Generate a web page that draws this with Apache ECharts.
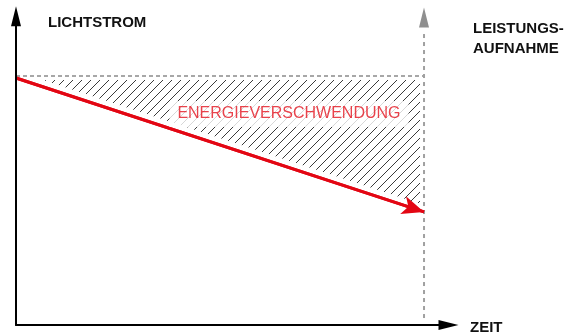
<!DOCTYPE html>
<html><head><meta charset="utf-8">
<script src="https://cdn.jsdelivr.net/npm/echarts@6/dist/echarts.min.js"></script>
<style>html,body{margin:0;padding:0;background:#fff}#c{width:564px;height:333px}</style>
</head><body><div id="c"></div><script>
// ---- data ----
const timeSteps   = [0, 100];        // relative operating time
const nominalFlux = [100, 100];      // maintained / designed luminous flux level
const actualFlux  = [99.2, 45.4];    // real luminous flux, declining over time
const powerLine   = [[100, 2.8], [100, 118]];   // power consumption marker (vertical)
const powerArrowAt = [100, 123.5];
const wasteLabelAt = [66.9, 84.7];
const axisMaxX = 106, axisMaxY = 124;
const txtY = 'LICHTSTROM';
const txtP = 'LEISTUNGS-\nAUFNAHME';
const txtX = 'ZEIT';
const txtWaste = 'ENERGIEVERSCHWENDUNG';

const pairs = (ys) => timeSteps.map((t, i) => [t, ys[i]]);

function hatchTile() {
  const c = document.createElement('canvas');
  c.width = 9; c.height = 9;
  const g = c.getContext('2d');
  g.strokeStyle = '#3a3a3a'; g.lineWidth = 1;
  for (const dx of [-9, 0, 9]) {
    g.beginPath(); g.moveTo(dx - 1, 10); g.lineTo(dx + 10, -1); g.stroke();
  }
  return c;
}
const hatch = hatchTile();

const chart = echarts.init(document.getElementById('c'), null, {renderer: 'canvas'});
const font = '"Liberation Sans", Arial, sans-serif';
const axisCommon = {
  type: 'value', min: 0,
  axisLine: {show: true, onZero: false, lineStyle: {color: '#000', width: 2},
             symbol: ['none', 'triangle'], symbolSize: [10, 20]},
  axisTick: {show: false}, axisLabel: {show: false}, splitLine: {show: false}, z: 10
};
chart.setOption({
  animation: false,
  grid: {left: 16, top: 16.2, width: 432.5, height: 308.8},
  xAxis: Object.assign({}, axisCommon, {max: axisMaxX}),
  yAxis: Object.assign({}, axisCommon, {max: axisMaxY}),
  graphic: [
    {type: 'text', left: 48, top: 15, style: {text: txtY, font: 'bold 15px ' + font, fill: '#111'}},
    {type: 'text', left: 473, top: 19, style: {text: txtP, font: 'bold 15px ' + font, fill: '#111', lineHeight: 20}},
    {type: 'text', left: 470, top: 320, style: {text: txtX, font: 'bold 15px ' + font, fill: '#111'}}
  ],
  series: [
    // hatched waste area between nominal and actual flux
    {type: 'custom', silent: true, z: 1, data: [0],
     renderItem: (params, api) => {
       const top = pairs(nominalFlux).map(p => api.coord(p));
       const bot = pairs(actualFlux).map(p => api.coord(p)).reverse();
       return {type: 'polygon', shape: {points: top.concat(bot)}, style: {fill: {image: hatch, repeat: 'repeat'}}};
     }},
    // white clearances around lines
    {type: 'line', data: pairs(nominalFlux), symbol: 'none', lineStyle: {color: '#fff', width: 8}, silent: true, z: 2},
    {type: 'line', data: pairs(actualFlux), symbol: 'none', lineStyle: {color: '#fff', width: 13}, silent: true, z: 2},
    {type: 'line', data: powerLine, symbol: 'none', lineStyle: {color: '#fff', width: 8}, silent: true, z: 2},
    // dashed nominal level
    {type: 'line', data: pairs(nominalFlux), symbol: 'none', lineStyle: {color: '#8a8a8a', width: 1.5, type: [4, 3]}, silent: true, z: 3},
    // power consumption marker
    {type: 'line', data: powerLine, symbol: 'none', lineStyle: {color: '#a0a0a0', width: 2, type: [4, 4]}, silent: true, z: 3,
     markPoint: {symbol: 'triangle', symbolSize: [10, 20], itemStyle: {color: '#8f8f8f'}, label: {show: false},
                 data: [{coord: powerArrowAt}]}},
    // actual flux (red) with arrow
    {type: 'line', data: pairs(actualFlux), symbol: 'none', lineStyle: {color: '#e30613', width: 3}, silent: true, z: 4,
     markLine: {silent: true, symbol: ['none', 'arrow'], symbolSize: [14, 22], label: {show: false},
                lineStyle: {color: '#e30613', width: 3, type: 'solid'},
                data: [[{coord: pairs(actualFlux)[0]}, {coord: pairs(actualFlux)[1]}]]}},
    // label
    {type: 'scatter', data: [wasteLabelAt], symbolSize: 0, silent: true, z: 5,
     label: {show: true, position: 'inside', formatter: txtWaste, color: '#e3141f', fontFamily: font, fontSize: 16,
             backgroundColor: '#fff', padding: [5, 8]}}
  ]
});
</script></body></html>
